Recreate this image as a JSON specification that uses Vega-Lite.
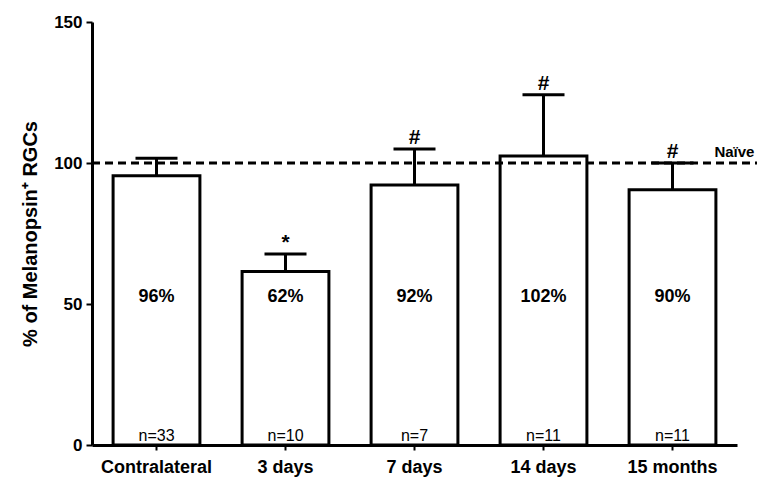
{
  "$schema": "https://vega.github.io/schema/vega-lite/v6.json",
  "width": 645,
  "height": 423,
  "autosize": {"type": "none"},
  "padding": {"left": 92, "top": 22, "right": 37, "bottom": 42},
  "background": "white",
  "config": {
    "font": "Liberation Sans",
    "view": {"stroke": null},
    "axis": {"grid": false, "ticks": true, "domainColor": "black", "domainWidth": 3, "tickColor": "black", "tickWidth": 2, "labelColor": "black", "titleColor": "black", "labelFont": "Liberation Sans", "titleFont": "Liberation Sans", "labelFontWeight": "bold", "titleFontWeight": "bold"}
  },
  "data": {"values": [
    {"group": "Contralateral", "value": 95.5, "upper": 101.7, "pct": "96%", "n": "n=33", "sig": ""},
    {"group": "3 days", "value": 61.5, "upper": 67.7, "pct": "62%", "n": "n=10", "sig": "*"},
    {"group": "7 days", "value": 92.2, "upper": 105.0, "pct": "92%", "n": "n=7", "sig": "#"},
    {"group": "14 days", "value": 102.5, "upper": 124.2, "pct": "102%", "n": "n=11", "sig": "#"},
    {"group": "15 months", "value": 90.5, "upper": 100.0, "pct": "90%", "n": "n=11", "sig": "#"}
  ]},
  "layer": [
    {
      "layer": [
        {
          "mark": {"type": "rule", "stroke": "black", "strokeWidth": 3},
          "encoding": {"y": {"field": "value", "type": "quantitative"}, "y2": {"field": "upper"}}
        },
        {
          "mark": {"type": "tick", "color": "black", "opacity": 1, "size": 42, "thickness": 3, "orient": "horizontal"},
          "encoding": {"y": {"field": "upper", "type": "quantitative"}}
        },
        {
          "mark": {"type": "bar", "fill": "white", "stroke": "black", "strokeWidth": 3},
          "encoding": {"y": {"field": "value", "type": "quantitative"}}
        },
        {
          "mark": {"type": "text", "fontSize": 18, "fontWeight": "bold", "color": "black", "baseline": "middle"},
          "encoding": {"y": {"datum": 52.5, "type": "quantitative"}, "text": {"field": "pct"}}
        },
        {
          "mark": {"type": "text", "fontSize": 16, "color": "black", "baseline": "bottom", "dy": -1},
          "encoding": {"y": {"datum": 0, "type": "quantitative"}, "text": {"field": "n"}}
        },
        {
          "mark": {"type": "text", "fontSize": 21, "fontWeight": "bold", "color": "black", "baseline": "bottom", "dy": -1},
          "encoding": {"y": {"field": "upper", "type": "quantitative"}, "text": {"field": "sig"}}
        }
      ],
      "encoding": {
        "x": {"field": "group", "type": "nominal", "sort": null,
          "scale": {"paddingInner": 0.327, "paddingOuter": 0.1635},
          "axis": {"title": null, "labelAngle": 0, "labelFontSize": 18, "ticks": true, "tickSize": 5, "tickWidth": 2, "labelPadding": 8}},
        "y": {"type": "quantitative", "scale": {"domain": [0, 150], "nice": false},
          "axis": {"title": "% of Melanopsin⁺ RGCs", "values": [0, 50, 100, 150], "labelFontSize": 17, "titleFontSize": 20, "tickSize": 6, "labelPadding": 4, "titlePadding": 13}}
      }
    },
    {
      "data": {"values": [{"start": 0, "end": 1.031, "level": 100, "name": "Naïve", "pos": 0.996, "ty": 102}]},
      "layer": [
        {
          "mark": {"type": "rule", "stroke": "black", "strokeWidth": 3, "strokeDash": [8, 5]},
          "encoding": {
            "x": {"field": "start", "type": "quantitative", "scale": {"domain": [0, 1]}, "axis": null},
            "x2": {"field": "end"},
            "y": {"field": "level", "type": "quantitative", "scale": {"domain": [0, 150], "nice": false}}
          }
        },
        {
          "mark": {"type": "text", "fontSize": 15, "fontWeight": "bold", "color": "black", "baseline": "alphabetic", "align": "center"},
          "encoding": {
            "x": {"field": "pos", "type": "quantitative", "scale": {"domain": [0, 1]}, "axis": null},
            "y": {"field": "ty", "type": "quantitative", "scale": {"domain": [0, 150], "nice": false}},
            "text": {"field": "name"}
          }
        }
      ]
    }
  ],
  "resolve": {"scale": {"x": "independent"}}
}
